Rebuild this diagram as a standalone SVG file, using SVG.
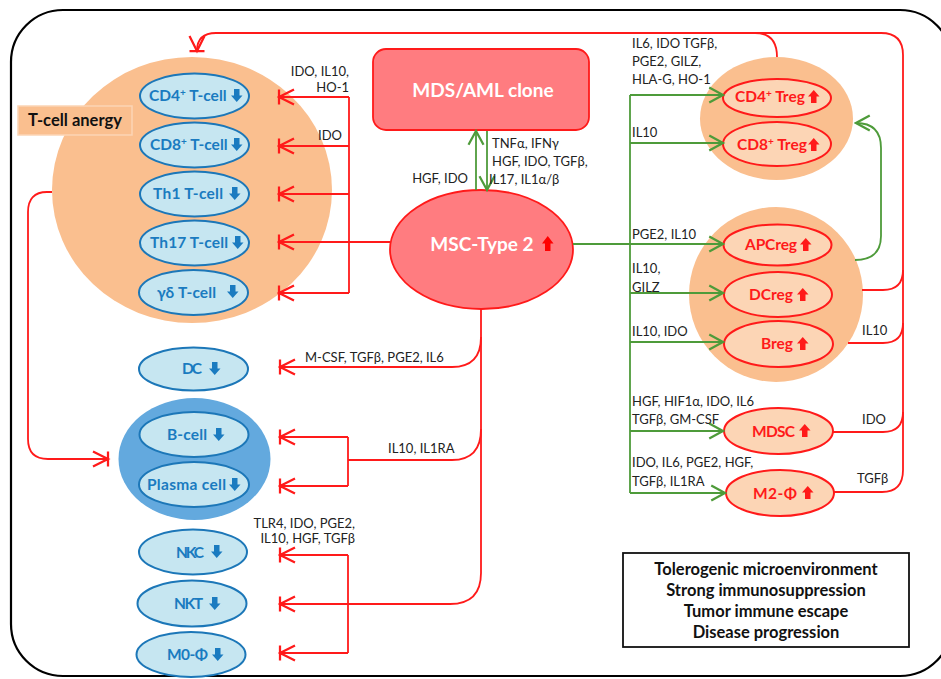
<svg xmlns="http://www.w3.org/2000/svg" xmlns:xlink="http://www.w3.org/1999/xlink" width="941" height="679" viewBox="0 0 941 679">
<defs>
<style>
.frame{fill:none;stroke:#000;stroke-width:2.2}
.peach{fill:#FABF8F}
.bl{fill:#C6E6F1;stroke:#1C77B8;stroke-width:2}
.rp{fill:#FCD5B5;stroke:#FF1A1A;stroke-width:2}
.bt{font-family:Lato,"Liberation Sans",sans-serif;font-weight:bold;font-size:15.5px;fill:#1A7BC0}
.rt{font-family:Lato,"Liberation Sans",sans-serif;font-weight:bold;font-size:15.5px;fill:#FF1A1A}
.wt{font-family:Lato,"Liberation Sans",sans-serif;font-weight:bold;font-size:19px;fill:#fff;text-anchor:middle}
.lab{font-family:Lato,"Liberation Sans",sans-serif;font-size:13px;fill:#222}
.r{text-anchor:end}
.kt{font-family:Lato,"Liberation Sans",sans-serif;font-weight:bold;font-size:16.5px;fill:#111;text-anchor:middle}
.red{fill:none;stroke:#FF1A1A;stroke-width:1.8}
.grn{fill:none;stroke:#4E9B3A;stroke-width:1.8}
.tee{marker-end:url(#tee)}
.ga{marker-end:url(#garr)}
</style>
<marker id="tee" markerUnits="userSpaceOnUse" markerWidth="20" markerHeight="20" viewBox="-14 -8 16 16" refX="0" refY="0" orient="auto">
<path d="M0,-6V6M-12,-6L0,0L-12,6" fill="none" stroke="#FF1A1A" stroke-width="1.8"/>
</marker>
<marker id="garr" markerUnits="userSpaceOnUse" markerWidth="20" markerHeight="20" viewBox="-14 -8 16 16" refX="0" refY="0" orient="auto">
<path d="M-11,-6L0,0L-11,6" fill="none" stroke="#4E9B3A" stroke-width="1.8"/>
</marker>
<path id="dn" d="M3,0H8.5V6.5H11.5L5.75,13L0,6.5H3Z"/>
<path id="up" d="M3,13H8.5V6.5H11.5L5.75,0L0,6.5H3Z"/>
</defs>

<rect class="frame" x="11" y="10" width="941" height="666" rx="52"/>

<g id="tcell-group">
<ellipse class="peach" cx="192" cy="190" rx="140" ry="133"/>
</g>
<g id="tcell-anergy">
<rect x="18" y="106" width="114" height="29" fill="#FABF8F" stroke="#FCD5B5" stroke-width="1.5"/>
<text x="75" y="126" style="font-family:Lato,'Liberation Sans',sans-serif;font-weight:bold;font-size:16.5px;fill:#111;text-anchor:middle">T-cell anergy</text>
</g>
<g id="cd4t">
<ellipse class="bl" cx="194.5" cy="96" rx="54.5" ry="22.5"/>
<text class="bt" x="149" y="101">CD4<tspan font-size="10" dy="-5">+</tspan><tspan dy="5"> T-cell</tspan></text>
<use xlink:href="#dn" x="231" y="89" fill="#1A7BC0"/>
</g>
<g id="cd8t">
<ellipse class="bl" cx="194.5" cy="145" rx="54.5" ry="22.5"/>
<text class="bt" x="150" y="150">CD8<tspan font-size="10" dy="-5">+</tspan><tspan dy="5"> T-cell</tspan></text>
<use xlink:href="#dn" x="231" y="138" fill="#1A7BC0"/>
</g>
<g id="th1">
<ellipse class="bl" cx="194.5" cy="194" rx="54.5" ry="22.5"/>
<text class="bt" x="153" y="199" textLength="70">Th1 T-cell</text>
<use xlink:href="#dn" x="229" y="187" fill="#1A7BC0"/>
</g>
<g id="th17">
<ellipse class="bl" cx="194.5" cy="243" rx="54.5" ry="22.5"/>
<text class="bt" x="150" y="248" textLength="78">Th17 T-cell</text>
<use xlink:href="#dn" x="232" y="236" fill="#1A7BC0"/>
</g>
<g id="gdt">
<ellipse class="bl" cx="193.5" cy="292.5" rx="54.5" ry="22.5"/>
<text class="bt" x="157" y="298" textLength="59">γδ T-cell</text>
<use xlink:href="#dn" x="227" y="285" fill="#1A7BC0"/>
</g>
<g id="dc">
<ellipse class="bl" cx="193.5" cy="369" rx="54.5" ry="21.5"/>
<text class="bt" x="182" y="374" textLength="20">DC</text>
<use xlink:href="#dn" x="209" y="362" fill="#1A7BC0"/>
</g>
<g id="bgroup">
<ellipse cx="194.5" cy="459" rx="76" ry="61" fill="#63A9DE"/>
</g>
<g id="bcell">
<ellipse class="bl" cx="194" cy="434.5" rx="54.5" ry="22.5"/>
<text class="bt" x="167" y="440" textLength="40">B-cell</text>
<use xlink:href="#dn" x="213" y="428" fill="#1A7BC0"/>
</g>
<g id="plasma">
<ellipse class="bl" cx="194" cy="484.5" rx="55" ry="22.5"/>
<text class="bt" x="147" y="490" textLength="79">Plasma cell</text>
<use xlink:href="#dn" x="229" y="478" fill="#1A7BC0"/>
</g>
<g id="nkc">
<ellipse class="bl" cx="193" cy="552" rx="54" ry="22.5"/>
<text class="bt" x="176" y="558" textLength="28">NKC</text>
<use xlink:href="#dn" x="211" y="545" fill="#1A7BC0"/>
</g>
<g id="nkt">
<ellipse class="bl" cx="192" cy="603.5" rx="54.5" ry="23"/>
<text class="bt" x="174" y="609" textLength="29">NKT</text>
<use xlink:href="#dn" x="209" y="597" fill="#1A7BC0"/>
</g>
<g id="m0">
<ellipse class="bl" cx="191" cy="654.5" rx="54.5" ry="22.5"/>
<text class="bt" x="167" y="660" textLength="41">M0-Φ</text>
<use xlink:href="#dn" x="212" y="648" fill="#1A7BC0"/>
</g>

<g id="mds">
<rect x="373" y="49" width="216" height="81" rx="13" fill="#FF7C80" stroke="#FF1A1A" stroke-width="1.8"/>
<text class="wt" x="483" y="97">MDS/AML clone</text>
</g>
<g id="msc">
<ellipse cx="481.5" cy="249.5" rx="91.5" ry="59.5" fill="#FF7C80" stroke="#FF1A1A" stroke-width="1.8"/>
<text class="wt" x="482" y="251">MSC-Type 2</text>
<use xlink:href="#up" x="542" y="236" fill="#FF0000" transform="translate(542 236) scale(1 1.15) translate(-542 -236)"/>
</g>

<g id="treg-group">
<ellipse class="peach" cx="776.5" cy="118.5" rx="76.5" ry="61.5"/>
</g>
<g id="cd4treg">
<ellipse class="rp" cx="777" cy="98" rx="54" ry="19"/>
<text class="rt" x="735" y="102">CD4<tspan font-size="10" dy="-5">+</tspan><tspan dy="5"> Treg</tspan></text>
<use xlink:href="#up" x="808" y="90" fill="#FF1A1A"/>
</g>
<g id="cd8treg">
<ellipse class="rp" cx="777" cy="144" rx="54" ry="22"/>
<text class="rt" x="737" y="150">CD8<tspan font-size="10" dy="-5">+</tspan><tspan dy="5"> Treg</tspan></text>
<use xlink:href="#up" x="808" y="138" fill="#FF1A1A"/>
</g>
<g id="reg-group">
<ellipse class="peach" cx="776" cy="294.5" rx="87" ry="87.5"/>
</g>
<g id="apcreg">
<ellipse class="rp" cx="777.5" cy="245" rx="54" ry="20.5"/>
<text class="rt" x="745" y="250" textLength="52">APCreg</text>
<use xlink:href="#up" x="800" y="238" fill="#FF1A1A"/>
</g>
<g id="dcreg">
<ellipse class="rp" cx="778" cy="294.5" rx="54" ry="22.5"/>
<text class="rt" x="749" y="300" textLength="44">DCreg</text>
<use xlink:href="#up" x="797" y="288" fill="#FF1A1A"/>
</g>
<g id="breg">
<ellipse class="rp" cx="778.5" cy="344" rx="54.5" ry="23"/>
<text class="rt" x="761" y="349" textLength="32">Breg</text>
<use xlink:href="#up" x="797" y="337" fill="#FF1A1A"/>
</g>
<g id="mdsc">
<ellipse class="rp" cx="778.5" cy="431" rx="54.5" ry="23"/>
<text class="rt" x="752" y="437" textLength="43">MDSC</text>
<use xlink:href="#up" x="799" y="424" fill="#FF1A1A"/>
</g>
<g id="m2">
<ellipse class="rp" cx="780" cy="493" rx="54" ry="23"/>
<text class="rt" x="753" y="499" textLength="44">M2-Φ</text>
<use xlink:href="#up" x="802" y="486" fill="#FF1A1A"/>
</g>

<g id="summary">
<rect x="623" y="553" width="286" height="94" fill="#fff" stroke="#111" stroke-width="1.8"/>
<text class="kt" x="766" y="575">Tolerogenic microenvironment</text>
<text class="kt" x="766" y="596">Strong immunosuppression</text>
<text class="kt" x="766" y="617">Tumor immune escape</text>
<text class="kt" x="766" y="638">Disease progression</text>
</g>

<g id="connectors">
<path class="red" d="M349,97V293"/>
<path class="red tee" d="M349,97H279"/>
<path class="red tee" d="M349,146H279"/>
<path class="red tee" d="M349,194H279"/>
<path class="red tee" d="M390,242H279"/>
<path class="red tee" d="M349,293H279"/>
<path class="red tee" d="M481,309V573Q481,604 450,604H280"/>
<path class="red tee" d="M481,337Q481,367 452,367H280"/>
<path class="red" d="M481,429Q481,460 452,460H348"/>
<path class="red" d="M348,437V486"/>
<path class="red tee" d="M348,437H280"/>
<path class="red tee" d="M348,486H280"/>
<path class="red" d="M348,555V653"/>
<path class="red tee" d="M348,555H280"/>
<path class="red tee" d="M348,653H280"/>
<path class="red tee" d="M52,192H47Q28,192 28,212V439Q28,459 48,459H108"/>
<path class="red tee" d="M834,492H882Q903,492 903,470V55Q903,33 881,33H216Q197,33 197,51"/>
<path class="red" d="M777,57Q777,33 755,33"/>
<path class="red" d="M862,290H883Q903,290 903,270"/>
<path class="red" d="M848,343H883Q903,343 903,323"/>
<path class="red" d="M833,432H883Q903,432 903,412"/>
<path class="grn ga" d="M476,190V131"/>
<path class="grn ga" d="M487,131V190"/>
<path class="grn ga" d="M573,244H723"/>
<path class="grn" d="M630,95V493"/>
<path class="grn ga" d="M630,95H723"/>
<path class="grn ga" d="M630,143H723"/>
<path class="grn ga" d="M630,293H723"/>
<path class="grn ga" d="M630,342H723"/>
<path class="grn ga" d="M630,431H723"/>
<path class="grn ga" d="M630,493H725"/>
<path class="grn ga" d="M855,260Q881,260 881,236V148Q881,123 856,123"/>
</g>

<g id="labels">
<text class="lab r" x="349" y="76">IDO, IL10,</text>
<text class="lab r" x="349" y="92">HO-1</text>
<text class="lab r" x="342" y="140">IDO</text>
<text class="lab r" x="468" y="183">HGF, IDO</text>
<text class="lab" x="492" y="148">TNFα, IFNγ</text>
<text class="lab" x="492" y="166">HGF, IDO, TGFβ,</text>
<text class="lab" x="489" y="184">IL17, IL1α/β</text>
<text class="lab" x="305" y="362">M-CSF, TGFβ, PGE2, IL6</text>
<text class="lab" x="388" y="453">IL10, IL1RA</text>
<text class="lab r" x="355" y="528" font-size="12.5">TLR4, IDO, PGE2,</text>
<text class="lab r" x="355" y="543" font-size="12.5">IL10, HGF, TGFβ</text>
<text class="lab" x="632" y="48">IL6, IDO TGFβ,</text>
<text class="lab" x="632" y="66">PGE2, GILZ,</text>
<text class="lab" x="632" y="84">HLA-G, HO-1</text>
<text class="lab" x="632" y="137">IL10</text>
<text class="lab" x="632" y="239">PGE2, IL10</text>
<text class="lab" x="632" y="273">IL10,</text>
<text class="lab" x="632" y="292">GILZ</text>
<text class="lab" x="632" y="336">IL10, IDO</text>
<text class="lab" x="632" y="406">HGF, HIF1α, IDO, IL6</text>
<text class="lab" x="632" y="424">TGFβ, GM-CSF</text>
<text class="lab" x="632" y="467">IDO, IL6, PGE2, HGF,</text>
<text class="lab" x="632" y="486">TGFβ, IL1RA</text>
<text class="lab" x="862" y="335">IL10</text>
<text class="lab" x="862" y="424">IDO</text>
<text class="lab" x="857" y="483">TGFβ</text>
</g>
</svg>
